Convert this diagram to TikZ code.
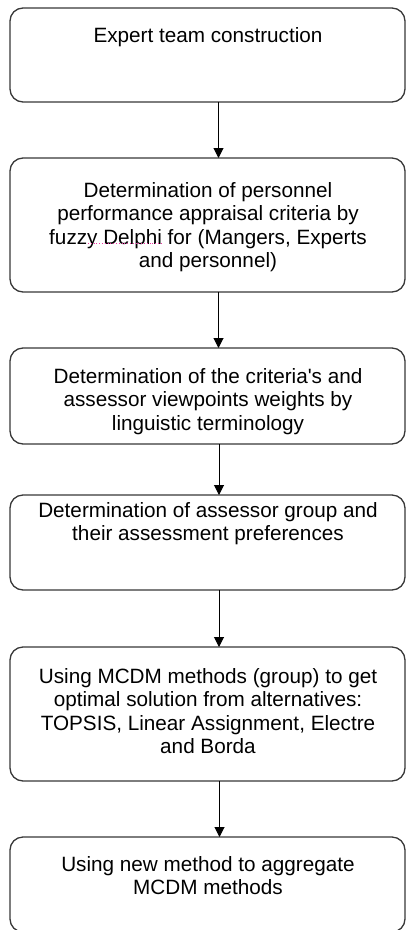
\documentclass[tikz,border=0pt]{standalone}
\usepackage{fontspec}
\setmainfont{Liberation Sans}
\usetikzlibrary{arrows.meta}
\begin{document}
\begin{tikzpicture}[x=1pt,y=1pt,
  flowbox/.style={draw=black!78, line width=1.3pt, rounded corners=13pt},
  txt/.style={anchor=north, align=center, inner sep=0pt, font=\fontsize{20.7}{23.5}\selectfont},
  flow/.style={draw=black, line width=1pt, -{Triangle[length=10pt,width=10pt]}},
  spell/.style={draw=magenta!80, line width=0.8pt, dotted}]
\useasboundingbox (0,0) rectangle (407,-930);
% boxes (x 10..405)
\draw[flowbox] (10,-8) rectangle (405,-102);
\draw[flowbox] (10,-158) rectangle (405,-292);
\draw[flowbox] (10,-348) rectangle (405,-444);
\draw[flowbox] (10,-495) rectangle (405,-590);
\draw[flowbox] (10,-647) rectangle (405,-781);
\draw[flowbox] (10,-837) rectangle (405,-932);
% texts
\node[txt] (t1) at (208,-27) {Expert team construction};
\node[txt] (t2) at (208,-182) {Determination of personnel\\performance appraisal criteria by\\fuzzy Delphi for (Mangers, Experts\\and personnel)};
\node[txt] (t3) at (208,-368) {Determination of the criteria\textquotesingle s and\\assessor viewpoints weights by\\linguistic terminology};
\node[txt] (t4) at (208,-502) {Determination of assessor group and\\their assessment preferences};
\node[txt] (t5) at (208,-668) {Using MCDM methods (group) to get\\optimal solution from alternatives:\\TOPSIS, Linear Assignment, Electre\\and Borda};
\node[txt] (t6) at (208,-856) {Using new method to aggregate\\MCDM methods};
% spell-check underline under "Delphi"
\coordinate (s1) at (88,-243.5);
\coordinate (s2) at (162,-243.5);
\draw[spell] (s1) -- (s2);
% connector endpoints
\coordinate (a1) at (218.5,-102);
\coordinate (b1) at (218.5,-158);
\coordinate (a2) at (218.5,-292);
\coordinate (b2) at (218.5,-348);
\coordinate (a3) at (219,-444);
\coordinate (b3) at (219,-495);
\coordinate (a4) at (219,-590);
\coordinate (b4) at (219,-647);
\coordinate (a5) at (219.5,-781);
\coordinate (b5) at (219.5,-837);
\draw[flow] (a1) -- (b1);
\draw[flow] (a2) -- (b2);
\draw[flow] (a3) -- (b3);
\draw[flow] (a4) -- (b4);
\draw[flow] (a5) -- (b5);
\end{tikzpicture}
\end{document}
